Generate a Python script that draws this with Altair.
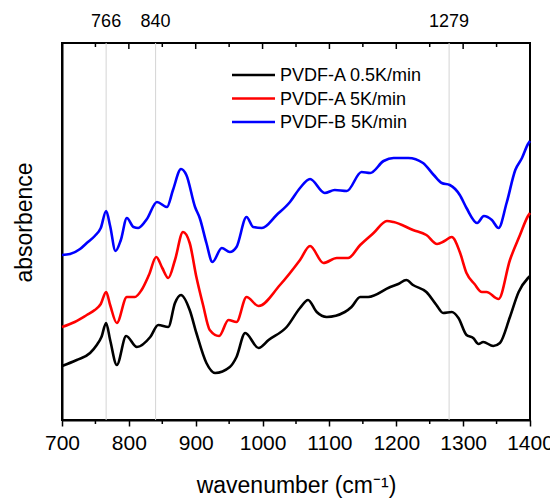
import altair as alt
import pandas as pd

FONT = "Liberation Sans"

series_names = ["PVDF-A 0.5K/min", "PVDF-A 5K/min", "PVDF-B 5K/min"]
series_colors = ["#000000", "#ff0000", "#0000ff"]

black_wn = [700, 722, 742, 752, 759, 766, 772, 782, 796, 812, 832, 844, 859, 869, 878, 891, 901, 916, 929, 951,
            961, 974, 994, 1009, 1036, 1056, 1068, 1081, 1096, 1123, 1133, 1146, 1158, 1191, 1203, 1215, 1225, 1245,
            1260, 1270, 1283, 1293, 1305, 1315, 1323, 1330, 1345, 1355, 1370, 1383, 1397, 1400]
black_abs = [0.54, 0.60, 0.67, 0.75, 0.83, 0.97, 0.80, 0.55, 0.84, 0.73, 0.83, 0.95, 0.93, 1.17, 1.25, 1.10, 0.87,
             0.57, 0.47, 0.53, 0.63, 0.87, 0.72, 0.80, 0.93, 1.12, 1.20, 1.08, 1.03, 1.08, 1.13, 1.23, 1.23, 1.33,
             1.36, 1.40, 1.35, 1.28, 1.15, 1.07, 1.08, 1.02, 0.85, 0.82, 0.76, 0.78, 0.74, 0.77, 1.03, 1.28, 1.42, 1.44]

red_wn = [700, 719, 737, 749, 758, 766, 772, 782, 797, 809, 819, 830, 841, 850, 859, 869, 881, 891, 901, 911, 921,
          935, 949, 961, 976, 994, 1026, 1056, 1071, 1091, 1111, 1128, 1146, 1166, 1186, 1196, 1225, 1245, 1261, 1272,
          1283, 1295, 1305, 1317, 1328, 1335, 1353, 1370, 1385, 1397, 1400]
red_abs = [0.93, 0.98, 1.05, 1.10, 1.16, 1.28, 1.15, 0.97, 1.23, 1.23, 1.30, 1.45, 1.63, 1.52, 1.42, 1.60, 1.88, 1.77,
           1.43, 1.15, 0.90, 0.84, 1.00, 0.98, 1.23, 1.14, 1.35, 1.60, 1.74, 1.57, 1.62, 1.62, 1.75, 1.87, 1.99, 1.98,
           1.90, 1.85, 1.76, 1.79, 1.83, 1.68, 1.47, 1.36, 1.28, 1.28, 1.21, 1.60, 1.85, 2.04, 2.07]

blue_wn = [700, 712, 727, 737, 749, 758, 766, 772, 780, 788, 797, 807, 814, 827, 842, 857, 866, 878, 886, 899, 906,
           916, 925, 939, 951, 961, 976, 986, 999, 1021, 1041, 1056, 1071, 1093, 1108, 1126, 1148, 1161, 1181, 1196,
           1218, 1240, 1256, 1268, 1280, 1295, 1305, 1321, 1331, 1343, 1353, 1365, 1378, 1388, 1397, 1400]
blue_abs = [1.65, 1.66, 1.71, 1.77, 1.84, 1.92, 2.09, 1.94, 1.69, 1.80, 2.02, 1.93, 1.92, 2.01, 2.18, 2.13, 2.30, 2.51,
            2.45, 2.13, 2.02, 1.77, 1.58, 1.72, 1.68, 1.73, 2.03, 1.93, 1.92, 2.05, 2.18, 2.32, 2.41, 2.27, 2.30, 2.29,
            2.48, 2.47, 2.59, 2.62, 2.62, 2.57, 2.45, 2.37, 2.35, 2.25, 2.12, 1.97, 2.04, 2.00, 1.92, 2.17, 2.50, 2.62,
            2.76, 2.79]

marker_wn = [766, 840, 1279]
major_ticks = [700, 800, 900, 1000, 1100, 1200, 1300, 1400]
minor_ticks = [750, 850, 950, 1050, 1150, 1250, 1350]
top_major_ticks = [800, 900, 1000, 1100, 1200, 1300]

frames = []
for name, wn, ab in zip(series_names, [black_wn, red_wn, blue_wn], [black_abs, red_abs, blue_abs]):
    frames.append(pd.DataFrame({"wn": wn, "abs": ab, "series": name}))
spectra = pd.concat(frames, ignore_index=True)

W, H = 468, 377

x_enc = alt.X(
    "wn:Q",
    scale=alt.Scale(domain=[700, 1400], nice=False, zero=False),
    axis=alt.Axis(
        values=major_ticks, format="d", title="wavenumber (cm⁻¹)", grid=False,
        tickSize=6, tickWidth=1.5, tickColor="black",
        labelFont=FONT, labelFontSize=21, labelColor="black", labelPadding=6,
        labelFlush=False,
        domainColor="black", domainWidth=2,
        titleFont=FONT, titleFontSize=23, titleFontWeight="normal", titleColor="black",
        titleBaseline="alphabetic", titleY=72,
    ),
)

lines = alt.Chart(spectra).mark_line(strokeWidth=2.6, interpolate="monotone").encode(
    x=x_enc,
    y=alt.Y(
        "abs:Q",
        scale=alt.Scale(domain=[0, 3.77], nice=False, zero=False),
        axis=alt.Axis(
            title="absorbence", labels=False, ticks=False, grid=False,
            domainColor="black", domainWidth=2,
            titleFont=FONT, titleFontSize=23, titleFontWeight="normal", titleColor="black",
            titlePadding=26, titleY=179,
        ),
    ),
    color=alt.Color("series:N", scale=alt.Scale(domain=series_names, range=series_colors), legend=None),
    detail="series:N",
)

markers = pd.DataFrame({"wn": marker_wn, "label": [str(v) for v in marker_wn]})
grid = alt.Chart(markers).mark_rule(color="#d4d4d4", strokeWidth=1).encode(x=x_enc)
top_labels = alt.Chart(markers).mark_text(
    font=FONT, fontSize=18, baseline="alphabetic", align="center", color="black"
).encode(x=x_enc, text="label:N", y=alt.value(-16))

minor_df = pd.DataFrame({"wn": minor_ticks})
top_major_df = pd.DataFrame({"wn": top_major_ticks})
bottom_minor = alt.Chart(minor_df).mark_rule(color="black", strokeWidth=1.5).encode(
    x=x_enc, y=alt.value(H), y2=alt.value(H + 4))
top_minor = alt.Chart(minor_df).mark_rule(color="black", strokeWidth=1.5).encode(
    x=x_enc, y=alt.value(0), y2=alt.value(4))
top_major = alt.Chart(top_major_df).mark_rule(color="black", strokeWidth=1.5).encode(
    x=x_enc, y=alt.value(0), y2=alt.value(6))

legend_layers = []
for i, (name, col) in enumerate(zip(series_names, series_colors)):
    ly = 32 + i * 23.5
    d = pd.DataFrame({"name": [name]})
    legend_layers.append(alt.Chart(d).mark_rule(color=col, strokeWidth=2.6).encode(
        x=alt.value(170), x2=alt.value(213), y=alt.value(ly)))
    legend_layers.append(alt.Chart(d).mark_text(
        font=FONT, fontSize=18, align="left", baseline="middle", color="black").encode(
        x=alt.value(218), y=alt.value(ly + 1), text="name:N"))

chart = alt.layer(
    grid, lines, top_labels, bottom_minor, top_minor, top_major, *legend_layers
).properties(
    width=W, height=H,
    autosize=alt.AutoSizeParams(type="none"),
    padding={"left": 54, "top": 35, "right": 20, "bottom": 78},
    background="white",
).configure_view(stroke="black", strokeWidth=2)

chart.save("out.html", embed_options={"renderer": "svg", "actions": False})
